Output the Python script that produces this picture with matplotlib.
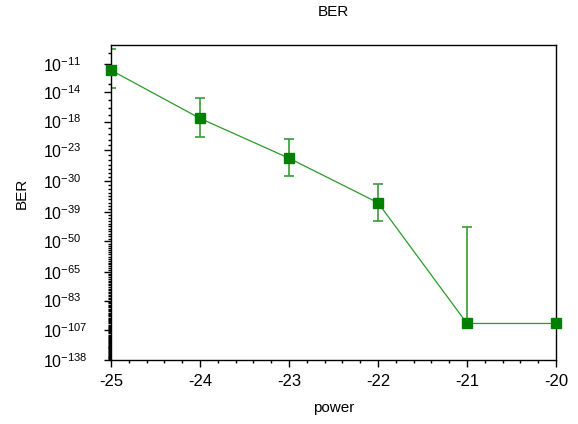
import numpy as np
import matplotlib
matplotlib.use("Agg")
import matplotlib.pyplot as plt
from matplotlib.ticker import FixedLocator

plt.rcParams['font.family'] = ['Liberation Sans', 'DejaVu Sans']
plt.rcParams['mathtext.fontset'] = 'custom'
plt.rcParams['mathtext.rm'] = 'Liberation Sans'
plt.rcParams['mathtext.default'] = 'regular'
plt.rcParams['axes.unicode_minus'] = False

# data (exponents of BER, i.e. BER = 10**-exp)
power = [-25, -24, -23, -22, -21, -20]
ber_exp = [11.6, 17.5, 24.6, 36.0, 101.0, 101.0]
ber_hi_exp = [9.7, 14.75, 20.9, 30.7, 44.2, 101.0]   # upper end of error bar
ber_lo_exp = [13.5, 20.6, 28.6, 42.1, 101.0, 101.0]  # lower end of error bar

ytick_exp = [11, 14, 18, 23, 30, 39, 50, 65, 83, 107, 138]
xticks = [-25, -24, -23, -22, -21, -20]


def to_axis(e):
    # double-log BER axis: position = -ln(-log10(BER))
    return -np.log(np.asarray(e, dtype=float))


y = to_axis(ber_exp)
yhi = to_axis(ber_hi_exp)
ylo = to_axis(ber_lo_exp)

fig = plt.figure(figsize=(5.78, 4.24), dpi=100)
ax = fig.add_axes([111/578, 1-360/424, (556-111)/578, (360-45)/424])

ax.errorbar(power, y, yerr=[y - ylo, yhi - y], fmt='none',
            ecolor='#3a9a3a', elinewidth=1.2, capsize=3.7, capthick=1.2, zorder=2)
ax.plot(power, y, color='#2a9a2a', lw=0.9, marker='s', markersize=7.5,
        markerfacecolor='#008000', markeredgecolor='#008000', zorder=3,
        clip_on=False)

ax.set_xlim(-25, -20)
ax.set_ylim(to_axis(138), to_axis(9.35))

ax.yaxis.set_major_locator(FixedLocator(to_axis(ytick_exp)))
ax.set_yticklabels([r'$10^{-%d}$' % e for e in ytick_exp])
ax.yaxis.set_minor_locator(FixedLocator(to_axis(np.arange(10, 139))))
ax.set_xticks(xticks)
ax.set_xticklabels([str(v) for v in xticks])
ax.xaxis.set_minor_locator(FixedLocator(np.arange(-25, -19.9, 0.2)))

ax.tick_params(axis='y', which='major', length=5, width=1, labelsize=11.5, pad=44)
ax.tick_params(axis='y', which='minor', length=2.5, width=1)
ax.tick_params(axis='x', which='major', length=5, width=1, labelsize=12, pad=5)
ax.tick_params(axis='x', which='minor', length=2.5, width=1)
for lab in ax.get_yticklabels():
    lab.set_horizontalalignment('left')

for s in ax.spines.values():
    s.set_linewidth(1)
    s.set_color('black')

ax.set_title('BER', fontsize=11, pad=21)
ax.set_xlabel('power', fontsize=11, labelpad=9)
ax.set_ylabel('BER', fontsize=11, labelpad=6)
ax.yaxis.set_label_coords(-0.185, 0.53)

fig.savefig('out.png', dpi=100)
